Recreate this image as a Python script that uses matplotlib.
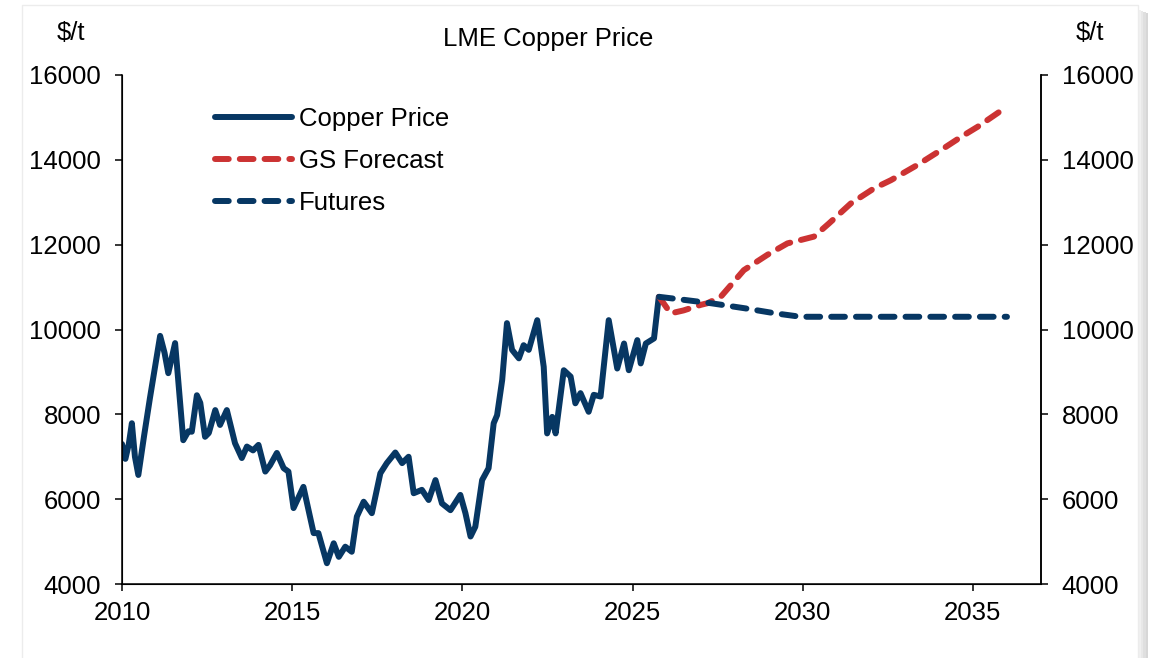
import matplotlib.pyplot as plt
from matplotlib.patches import Rectangle

plt.rcParams['font.family'] = ['Liberation Sans', 'DejaVu Sans']

# copper price (decimal year, $/t)
copper_t = [2010.00, 2010.10, 2010.20, 2010.29, 2010.38, 2010.48, 2010.65, 2010.82,
            2011.12, 2011.25, 2011.36, 2011.56, 2011.80, 2011.95, 2012.05, 2012.20,
            2012.30, 2012.44, 2012.55, 2012.74, 2012.88, 2013.08, 2013.32, 2013.52,
            2013.67, 2013.85, 2014.01, 2014.21, 2014.35, 2014.55, 2014.75, 2014.89,
            2015.04, 2015.33, 2015.50, 2015.63, 2015.77, 2016.02, 2016.22, 2016.37,
            2016.56, 2016.75, 2016.90, 2017.10, 2017.34, 2017.59, 2017.78, 2018.03,
            2018.23, 2018.42, 2018.57, 2018.81, 2019.01, 2019.21, 2019.40, 2019.65,
            2019.94, 2020.09, 2020.24, 2020.38, 2020.58, 2020.77, 2020.92, 2021.02,
            2021.17, 2021.31, 2021.46, 2021.66, 2021.80, 2021.95, 2022.20, 2022.39,
            2022.49, 2022.64, 2022.74, 2022.98, 2023.18, 2023.32, 2023.47, 2023.71,
            2023.86, 2024.06, 2024.30, 2024.55, 2024.75, 2024.89, 2025.14, 2025.24,
            2025.39, 2025.63, 2025.77]
copper_v = [7300, 6950, 7300, 7790, 7000, 6570, 7500, 8380,
            9850, 9450, 8970, 9680, 7390, 7600, 7590, 8450,
            8270, 7470, 7560, 8100, 7750, 8100, 7320, 6970,
            7240, 7150, 7280, 6650, 6800, 7090, 6730, 6650,
            5790, 6290, 5670, 5200, 5200, 4490, 4960, 4640,
            4880, 4760, 5590, 5940, 5670, 6610, 6850, 7100,
            6850, 7000, 6140, 6220, 5980, 6450, 5900, 5740,
            6100, 5670, 5120, 5350, 6450, 6730, 7790, 7980,
            8810, 10150, 9520, 9320, 9630, 9520, 10220, 9120,
            7550, 7940, 7550, 9040, 8890, 8260, 8500, 8060,
            8460, 8420, 10220, 9080, 9670, 9040, 9750, 9200,
            9670, 9790, 10770]

gs_t = [2025.78, 2026.12, 2026.50, 2027.00, 2027.20, 2027.59, 2028.27, 2028.96,
        2029.55, 2030.33, 2030.77, 2031.41, 2032.10, 2032.59, 2033.37, 2034.06,
        2034.65, 2035.14, 2035.92]
gs_v = [10770, 10380, 10450, 10580, 10620, 10770, 11400, 11760,
        12030, 12190, 12500, 12970, 13330, 13520, 13880, 14230,
        14540, 14780, 15210]

fut_t = [2025.78, 2026.50, 2027.30, 2028.30, 2029.20, 2029.94, 2036.00]
fut_v = [10770, 10700, 10620, 10500, 10380, 10300, 10300]

navy = '#073763'
red = '#cc3333'
fs = 18.5
lw = 4.3

W, H = 1154, 658
fig = plt.figure(figsize=(W / 100, H / 100), dpi=100)

# card with a drop shadow, like the exported chart
for i, a in enumerate([0.10, 0.16, 0.22, 0.28]):
    fig.patches.append(Rectangle(((1138 + i * 2.5) / W, 0), 2.5 / W, (H - 10 - i) / H,
                                 transform=fig.transFigure, color='#707070', alpha=a,
                                 lw=0, zorder=-10))
fig.patches.append(Rectangle((22 / W, -0.05), (1138 - 22) / W, 1.05 - 5 / H,
                             transform=fig.transFigure, facecolor='white',
                             edgecolor='#ececec', lw=1, zorder=-9))

ax = fig.add_axes([122 / W, 1 - 584 / H, (1041 - 122) / W, (584 - 75) / H])
ax.patch.set_alpha(0)

ax.plot(copper_t, copper_v, color=navy, lw=lw, solid_joinstyle='round',
        solid_capstyle='round', label='Copper Price')
ax.plot(gs_t, gs_v, color=red, lw=lw, dashes=(2.3, 1.85), dash_capstyle='round',
        label='GS Forecast')
ax.plot(fut_t, fut_v, color=navy, lw=lw, dashes=(2.3, 1.85), dash_capstyle='round',
        label='Futures')

ax.set_xlim(2010, 2037)
ax.set_ylim(4000, 16000)
ax.set_xticks([2010, 2015, 2020, 2025, 2030, 2035])
ax.set_yticks(range(4000, 16001, 2000))
ax.spines['top'].set_visible(False)
for s in ['left', 'bottom', 'right']:
    ax.spines[s].set_linewidth(1.1)
ax.tick_params(axis='y', direction='out', length=5, width=1.1, labelsize=fs, pad=10)
ax.tick_params(axis='x', direction='out', length=5, width=1.1, labelsize=fs, pad=7)

ax2 = ax.twinx()
ax2.set_ylim(4000, 16000)
ax2.set_yticks(range(4000, 16001, 2000))
ax2.spines['top'].set_visible(False)
ax2.spines['right'].set_linewidth(1.1)
ax2.tick_params(axis='y', direction='out', length=5, width=1.1, labelsize=fs, pad=10)

leg = ax.legend(loc='upper left', bbox_to_anchor=(215 / W, 1 - 107 / H),
                bbox_transform=fig.transFigure, frameon=False, fontsize=fs,
                handlelength=3.0, handletextpad=0.28, labelspacing=0.71,
                borderpad=0, borderaxespad=0)

fig.text(548 / W, 1 - 39 / H, 'LME Copper Price', ha='center', va='center', fontsize=fs)
fig.text(71 / W, 1 - 33 / H, '$/t', ha='center', va='center', fontsize=fs)
fig.text(1090 / W, 1 - 33 / H, '$/t', ha='center', va='center', fontsize=fs)

fig.savefig('out.png', dpi=100)
